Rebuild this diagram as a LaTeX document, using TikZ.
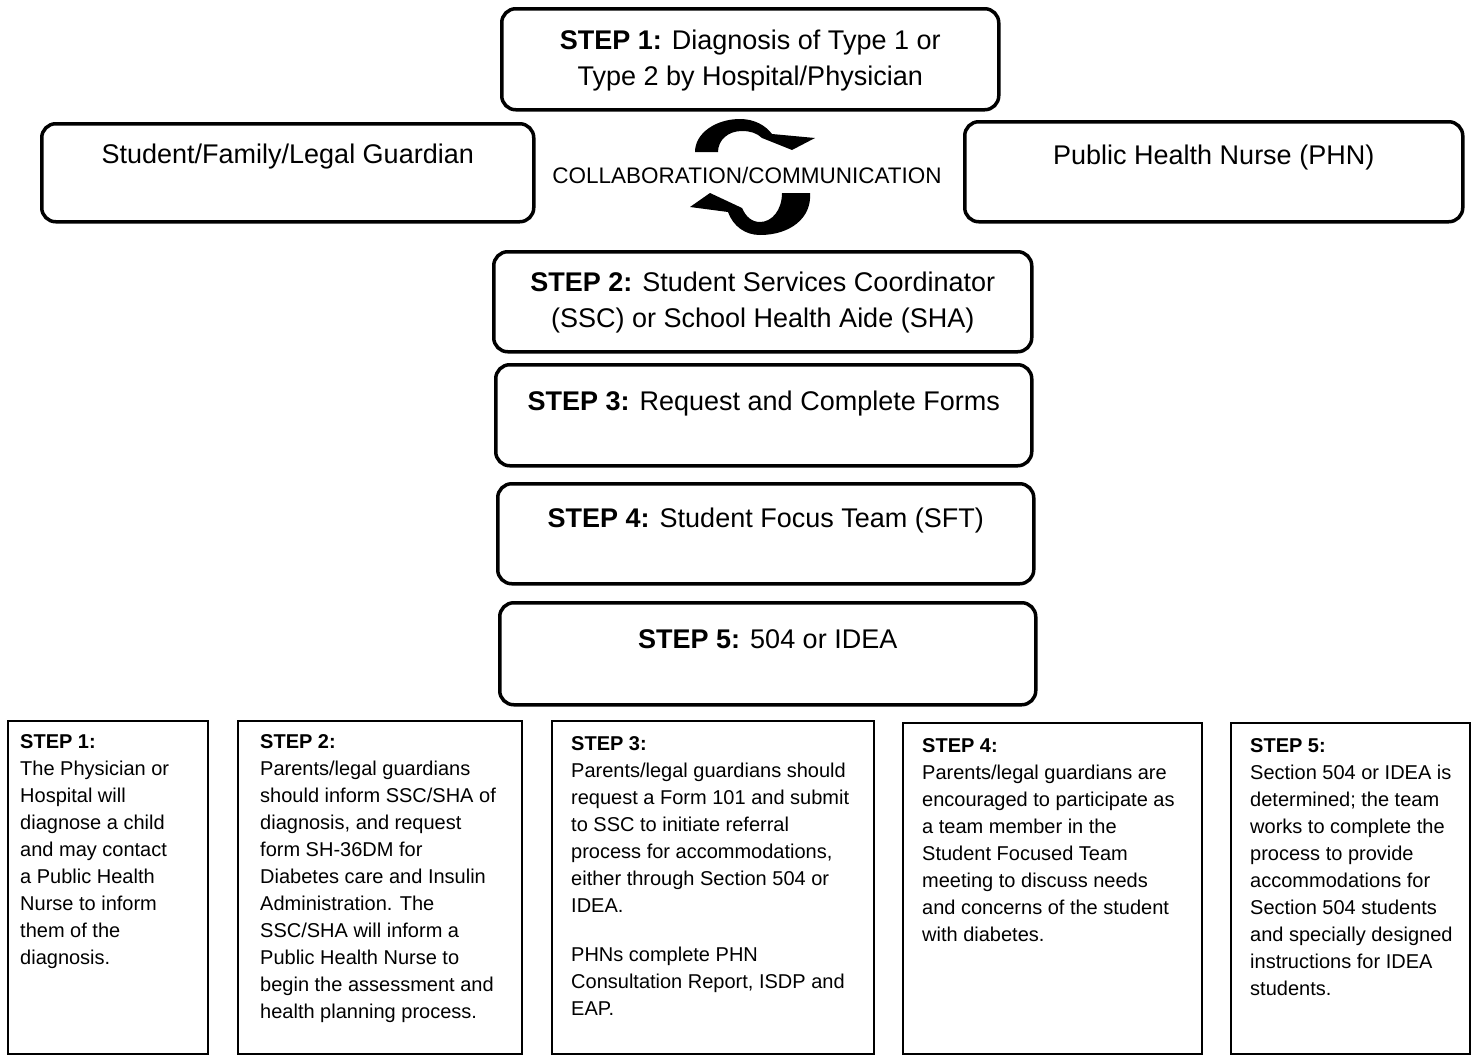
\documentclass[tikz,border=0pt]{standalone}
\usepackage{fontspec}
\setmainfont{Liberation Sans}
\usetikzlibrary{calc}
\begin{document}
\begin{tikzpicture}[x=1pt,y=-1pt,
  mainbox/.style={draw, line width=3.5pt, rounded corners=14pt, anchor=north west, inner sep=0pt},
  bbox/.style={draw, line width=1.6pt, anchor=north west, inner sep=0pt},
  maintext/.style={font=\fontsize{27}{36}\selectfont, align=center, inner sep=0pt},
  collab/.style={font=\fontsize{22.5}{26}\selectfont, inner sep=0pt},
  btext/.style={font=\fontsize{20}{27}\selectfont, align=left, anchor=north west, inner sep=0pt}]
\useasboundingbox (0,0) rectangle (1478,1055);
\fill[white] (0,0) rectangle (1478,1055);

% main boxes
\node[mainbox, minimum width=497pt, minimum height=101pt] (s1) at (500,7) {};
\node[maintext] (s1t) at ($(s1.center)+(0,1)$) {\textbf{STEP 1:} Diagnosis of Type 1 or\\Type 2 by Hospital/Physician};

\node[mainbox, minimum width=492pt, minimum height=98pt] (fam) at (40,122) {};
\node[maintext] (famt) at ($(fam.center)+(0,-16)$) {Student/Family/Legal Guardian};

\node[mainbox, minimum width=498pt, minimum height=100pt] (phn) at (963,120) {};
\node[maintext] (phnt) at ($(phn.center)+(0,-14)$) {Public Health Nurse (PHN)};

\node[collab] (col) at (747,175) {COLLABORATION/COMMUNICATION};

\node[mainbox, minimum width=538pt, minimum height=100pt] (s2) at (492,250) {};
\node[maintext] (s2t) at ($(s2.center)+(0,1)$) {\textbf{STEP 2:} Student Services Coordinator\\(SSC) or School Health Aide (SHA)};

\node[mainbox, minimum width=536pt, minimum height=101pt] (s3) at (494,363) {};
\node[maintext] (s3t) at ($(s3.center)+(0,-12)$) {\textbf{STEP 3:} Request and Complete Forms};

\node[mainbox, minimum width=536pt, minimum height=100pt] (s4) at (496,482) {};
\node[maintext] (s4t) at ($(s4.center)+(0,-13)$) {\textbf{STEP 4:} Student Focus Team (SFT)};

\node[mainbox, minimum width=536pt, minimum height=102pt] (s5) at (498,601) {};
\node[maintext] (s5t) at ($(s5.center)+(0,-15)$) {\textbf{STEP 5:} 504 or IDEA};

% circular arrows
\fill (695,152) .. controls (695,133) and (716,119) .. (740,119)
  .. controls (755,119) and (766,126) .. (772,134) -- (815,138) -- (792,150) -- (762,138)
  .. controls (757,133) and (750,131) .. (742,131)
  .. controls (728,131) and (718,140) .. (718,152) -- cycle;
\fill (810,193) .. controls (812,218) and (790,235) .. (760,235)
  .. controls (745,235) and (733,226) .. (728,212) -- (690,207) -- (710,193) -- (742,208)
  .. controls (746,217) and (752,222) .. (760,222)
  .. controls (772,222) and (782,210) .. (782,193) -- cycle;

% bottom boxes
\node[bbox, minimum width=200pt, minimum height=333pt] (b1) at (7,720) {};
\node[bbox, minimum width=284pt, minimum height=333pt] (b2) at (237,720) {};
\node[bbox, minimum width=322pt, minimum height=333pt] (b3) at (551,720) {};
\node[bbox, minimum width=299pt, minimum height=331pt] (b4) at (902,722) {};
\node[bbox, minimum width=239pt, minimum height=331pt] (b5) at (1230,722) {};

\node[btext] (b1t) at ($(b1.north west)+(13,14)$) {\textbf{STEP 1:}\\The Physician or\\Hospital will\\diagnose a child\\and may contact\\a Public Health\\Nurse to inform\\them of the\\diagnosis.};
\node[btext] (b2t) at ($(b2.north west)+(23,14)$) {\textbf{STEP 2:}\\Parents/legal guardians\\should inform SSC/SHA of\\diagnosis, and request\\form SH-36DM for\\Diabetes care and Insulin\\Administration. The\\SSC/SHA will inform a\\Public Health Nurse to\\begin the assessment and\\health planning process.};
\node[btext] (b3t) at ($(b3.north west)+(20,16)$) {\textbf{STEP 3:}\\Parents/legal guardians should\\request a Form 101 and submit\\to SSC to initiate referral\\process for accommodations,\\either through Section 504 or\\IDEA.\\[22pt]PHNs complete PHN\\Consultation Report, ISDP and\\EAP.};
\node[btext] (b4t) at ($(b4.north west)+(20,16)$) {\textbf{STEP 4:}\\Parents/legal guardians are\\encouraged to participate as\\a team member in the\\Student Focused Team\\meeting to discuss needs\\and concerns of the student\\with diabetes.};
\node[btext] (b5t) at ($(b5.north west)+(20,16)$) {\textbf{STEP 5:}\\Section 504 or IDEA is\\determined; the team\\works to complete the\\process to provide\\accommodations for\\Section 504 students\\and specially designed\\instructions for IDEA\\students.};
\end{tikzpicture}
\end{document}
